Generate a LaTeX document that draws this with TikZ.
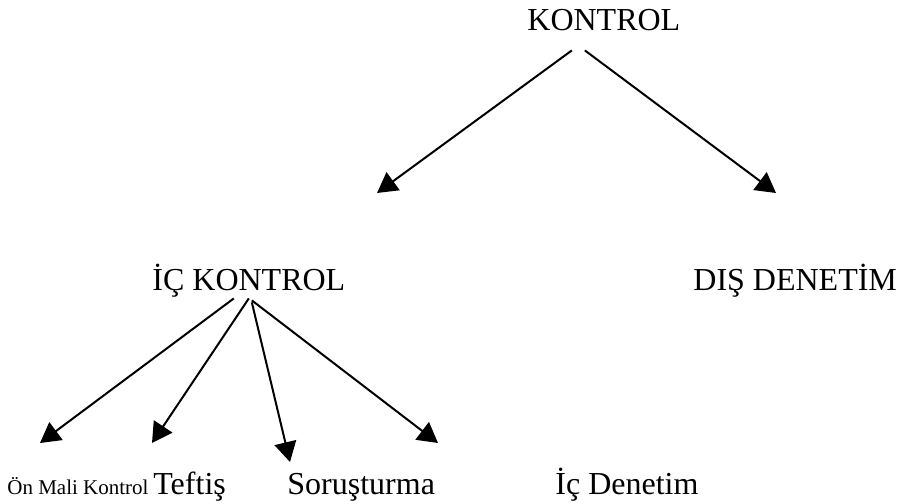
\documentclass[tikz,border=0pt]{standalone}
\usepackage{fontspec}
\setmainfont{Liberation Serif}
\usetikzlibrary{arrows.meta}
\begin{document}
\begin{tikzpicture}[x=0.5pt,y=-0.5pt]
\tikzstyle{textnode} = [inner sep=0pt, text depth=0pt, anchor=base west, font=\fontsize{16}{19}\selectfont]
\tikzstyle{smalltext} = [inner sep=0pt, text depth=0pt, anchor=base west, font=\fontsize{10.5}{12}\selectfont]
\tikzstyle{arrow} = [line width=1pt, -{Triangle[length=10pt,width=11pt]}]

\useasboundingbox (0,0) rectangle (908,503);

\node (kontrol) [textnode] at (527,30) {KONTROL};
\node (ic) [textnode] at (152,290) {İÇ KONTROL};
\node (dis) [textnode] at (693,290) {DIŞ DENETİM};

\node (onmali) [smalltext] at (7,494) {Ön Mali Kontrol};
\node (teftis) [textnode] at (153,494) {Teftiş};
\node (sorusturma) [textnode] at (287,494) {Soruşturma};
\node (icdenetim) [textnode] at (555,494) {İç Denetim};

% arrow tips
\coordinate (ic-tip) at (377,193);
\coordinate (dis-tip) at (776,193);
\coordinate (onmali-tip) at (40,443);
\coordinate (teftis-tip) at (152,443);
\coordinate (sorusturma-tip) at (290,462);
\coordinate (icdenetim-tip) at (438,443);

\draw [arrow] ([xshift=-16pt,yshift=-10pt]kontrol.south) -- (ic-tip);
\draw [arrow] ([xshift=-9.5pt,yshift=-10pt]kontrol.south) -- (dis-tip);

\draw [arrow] ([xshift=-7.5pt,yshift=-4pt]ic.south) -- (onmali-tip);
\draw [arrow] ([yshift=-4pt]ic.south) -- (teftis-tip);
\draw [arrow] ([xshift=1.5pt,yshift=-6pt]ic.south) -- (sorusturma-tip);
\draw [arrow] ([xshift=1.5pt,yshift=-5pt]ic.south) -- (icdenetim-tip);
\end{tikzpicture}
\end{document}
